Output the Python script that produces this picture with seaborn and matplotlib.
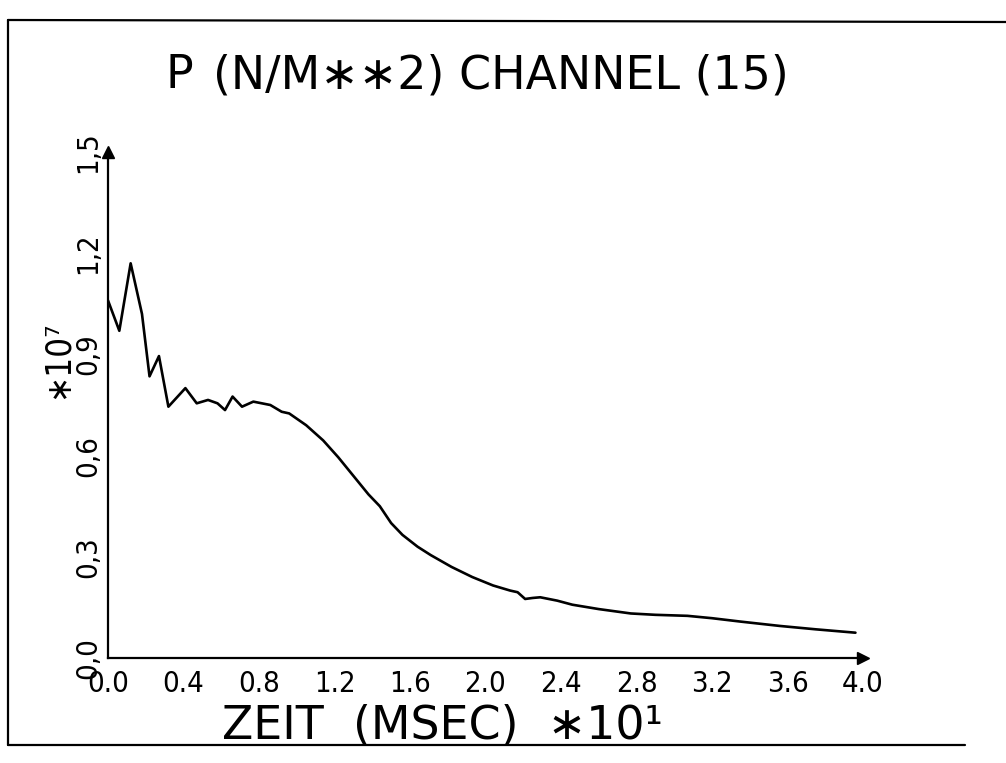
"""Plotter-style pressure trace: P (N/M**2) channel 15 over time."""
import matplotlib
matplotlib.use("Agg")
import matplotlib.pyplot as plt
from matplotlib.lines import Line2D
import pandas as pd
import seaborn as sns

# time in units of 10 ms, pressure in units of 1e7 N/m^2
zeit = [0.0, 0.06, 0.12, 0.18, 0.22, 0.27, 0.32, 0.41, 0.47, 0.53, 0.58, 0.62,
        0.66, 0.71, 0.77, 0.86, 0.92, 0.96, 1.05, 1.14, 1.22, 1.30, 1.38, 1.44,
        1.50, 1.56, 1.64, 1.71, 1.82, 1.93, 2.04, 2.13, 2.17, 2.21, 2.25, 2.29,
        2.38, 2.46, 2.60, 2.77, 2.90, 3.07, 3.20, 3.35, 3.56, 3.75, 3.96]
druck = [1.06, 0.97, 1.17, 1.02, 0.835, 0.895, 0.745, 0.80, 0.755, 0.765, 0.755, 0.735,
         0.775, 0.745, 0.76, 0.75, 0.73, 0.725, 0.69, 0.645, 0.595, 0.54, 0.485, 0.45,
         0.40, 0.365, 0.33, 0.305, 0.27, 0.24, 0.215, 0.20, 0.195, 0.175, 0.178, 0.18,
         0.17, 0.158, 0.145, 0.132, 0.128, 0.125, 0.118, 0.108, 0.095, 0.085, 0.075]

x_ticks = [0.0, 0.4, 0.8, 1.2, 1.6, 2.0, 2.4, 2.8, 3.2, 3.6, 4.0]
x_labels = ["0.0", "0.4", "0.8", "1.2", "1.6", "2.0", "2.4", "2.8", "3.2", "3.6", "4.0"]
y_ticks = [0.0, 0.3, 0.6, 0.9, 1.2, 1.5]
y_labels = ["0,0", "0,3", "0,6", "0,9", "1,2", "1,5"]

title_var = "P"
title_rest = "(N/M\u2217\u22172) CHANNEL (15)"
x_title = "ZEIT  (MSEC)  \u221710\u00b9"
y_title = "\u221710\u2077"

sns.set_style("white")
plt.rcParams["font.family"] = ["DejaVu Sans"]
plt.rcParams["text.color"] = "black"

df = pd.DataFrame({"zeit": zeit, "druck": druck})

W, H = 1006, 763
fig = plt.figure(figsize=(W / 100, H / 100), dpi=100)
ax = fig.add_axes([108 / W, 1 - 658 / H, 755 / W, 506 / H])

sns.lineplot(data=df, x="zeit", y="druck", ax=ax, color="black",
             linewidth=1.9, sort=False, estimator=None)

ax.set_xlim(0, 4.0)
ax.set_ylim(0, 1.5)
ax.set_xticks(x_ticks)
ax.set_xticklabels(x_labels, fontsize=21, fontstretch="condensed")
ax.set_yticks(y_ticks)
ax.set_yticklabels(y_labels, fontsize=21, fontstretch="condensed", rotation=90, va="center")
ax.tick_params(axis="x", direction="out", length=8, width=1.2, pad=1, colors="black")
ax.tick_params(axis="y", direction="out", length=3, width=1.2, pad=1, colors="black")
ax.set_xlabel("")
ax.set_ylabel("")

for side in ("top", "right"):
    ax.spines[side].set_visible(False)
for side in ("left", "bottom"):
    ax.spines[side].set_color("black")
    ax.spines[side].set_linewidth(1.6)

# axis arrow heads
ax.plot(1, 0, ">", color="black", markersize=9, transform=ax.transAxes, clip_on=False)
ax.plot(0, 1, "^", color="black", markersize=9, transform=ax.transAxes, clip_on=False)

# titles in figure pixels
fig.text(165 / W, 1 - 76 / H, title_var, fontsize=33, va="center", ha="left")
fig.text(213 / W, 1 - 76 / H, title_rest, fontsize=33, va="center", ha="left")
fig.text(442 / W, 1 - 726 / H, x_title, fontsize=33, va="center", ha="center")
fig.text(58 / W, 1 - 360 / H, y_title, fontsize=25, fontstretch="condensed",
         va="center", ha="center", rotation=90)

# frame drawn by the plotter around the page
frame = dict(color="black", linewidth=1.6, transform=fig.transFigure)
fig.add_artist(Line2D([8 / W, 8 / W], [1 - 20 / H, 1 - 745 / H], **frame))
fig.add_artist(Line2D([8 / W, 1.0], [1 - 20 / H, 1 - 22 / H], **frame))
fig.add_artist(Line2D([8 / W, 965 / W], [1 - 745 / H, 1 - 745 / H], **frame))

fig.savefig("out.png", dpi=100)
